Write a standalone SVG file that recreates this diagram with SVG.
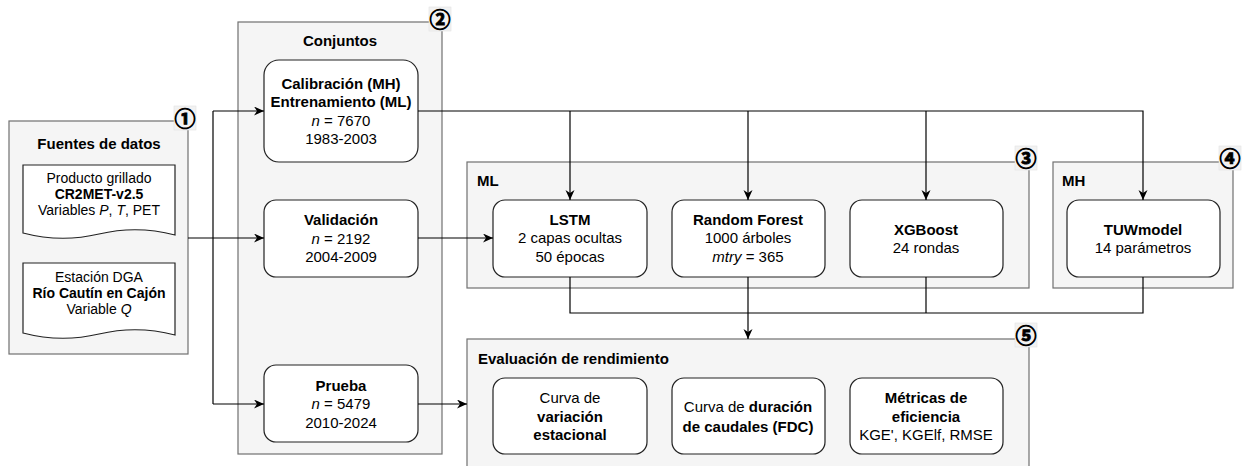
<svg xmlns="http://www.w3.org/2000/svg" width="1249" height="466" viewBox="0 0 1249 466">
<style>
text{font-family:"Liberation Sans",Arial,sans-serif;font-size:15px;fill:#000}
.c{text-anchor:middle}
.b{font-weight:bold}
.i{font-style:italic}
.d{font-size:14px}
.panel{fill:#f5f5f5;stroke:#707070;stroke-width:1.2}
.box{fill:#fff;stroke:#222;stroke-width:1.2}
.badge{fill:#f2f2f2;stroke:#e2e2e2;stroke-width:0.6}
.num{font-family:"Noto Sans CJK JP","DejaVu Sans",sans-serif;font-size:21px;font-weight:bold;text-anchor:middle;stroke:#000;stroke-width:0.9}
.edge{fill:none;stroke:#000;stroke-width:1.2}
.arr{marker-end:url(#ah)}
</style>
<defs>
<marker id="ah" markerUnits="userSpaceOnUse" markerWidth="11" markerHeight="10" refX="10" refY="4.5" orient="auto">
<path d="M0,0 L10,4.5 L0,9 L3,4.5 Z" fill="#000"/>
</marker>
</defs>
<rect width="1249" height="466" fill="#fff"/>

<g id="panel1">
<rect class="panel" x="9" y="121" width="179" height="233"/>
<text class="c b" x="99" y="149">Fuentes de datos</text>
<rect class="badge" x="174" y="106" width="22" height="24"/>
<text class="num" x="185" y="125.5">①</text>
</g>
<g id="doc-cr2met">
<path class="box" d="M23,165 H175 V235 Q137,225 99,234 Q61,243 23,233 Z"/>
<text class="c d" x="99" y="183">Producto grillado</text>
<text class="c b d" x="99" y="199">CR2MET-v2.5</text>
<text class="c d" x="99" y="215">Variables <tspan class="i">P</tspan>, <tspan class="i">T</tspan>, PET</text>
</g>
<g id="doc-dga">
<path class="box" d="M23,263 H175 V335 Q137,325 99,334 Q61,343 23,333 Z"/>
<text class="c d" x="99" y="282">Estación DGA</text>
<text class="c b d" x="99" y="298">Río Cautín en Cajón</text>
<text class="c d" x="99" y="314">Variable <tspan class="i">Q</tspan></text>
</g>

<g id="panel2">
<rect class="panel" x="238" y="22" width="204" height="432"/>
<text class="c b" x="340" y="46">Conjuntos</text>
<rect class="badge" x="429" y="7" width="22" height="24"/>
<text class="num" x="440" y="26.5">②</text>
</g>
<g id="calibracion">
<rect class="box" x="264" y="60" width="154" height="102" rx="15"/>
<text class="c b" x="341" y="88.5">Calibración (MH)</text>
<text class="c b" x="341" y="107">Entrenamiento (ML)</text>
<text class="c" x="341" y="125.5"><tspan class="i">n</tspan> = 7670</text>
<text class="c" x="341" y="143.5">1983-2003</text>
</g>
<g id="validacion">
<rect class="box" x="264" y="200" width="154" height="77" rx="12"/>
<text class="c b" x="341" y="225">Validación</text>
<text class="c" x="341" y="243.5"><tspan class="i">n</tspan> = 2192</text>
<text class="c" x="341" y="262">2004-2009</text>
</g>
<g id="prueba">
<rect class="box" x="264" y="365" width="154" height="77" rx="12"/>
<text class="c b" x="341" y="391">Prueba</text>
<text class="c" x="341" y="409"><tspan class="i">n</tspan> = 5479</text>
<text class="c" x="341" y="427.5">2010-2024</text>
</g>

<g id="panel3">
<rect class="panel" x="467" y="162" width="562" height="126"/>
<text class="b" x="477" y="186">ML</text>
<rect class="badge" x="1015" y="146" width="22" height="24"/>
<text class="num" x="1026" y="165.5">③</text>
</g>
<g id="lstm">
<rect class="box" x="493" y="200" width="154" height="77" rx="12"/>
<text class="c b" x="570" y="225">LSTM</text>
<text class="c" x="570" y="243">2 capas ocultas</text>
<text class="c" x="570" y="261.5">50 épocas</text>
</g>
<g id="rf">
<rect class="box" x="672" y="200" width="153" height="77" rx="12"/>
<text class="c b" x="748" y="225">Random Forest</text>
<text class="c" x="748" y="243">1000 árboles</text>
<text class="c" x="748" y="261.5"><tspan class="i">mtry</tspan> = 365</text>
</g>
<g id="xgb">
<rect class="box" x="850" y="200" width="153" height="77" rx="12"/>
<text class="c b" x="926" y="234.5">XGBoost</text>
<text class="c" x="926" y="253">24 rondas</text>
</g>

<g id="panel4">
<rect class="panel" x="1053" y="162" width="180" height="126"/>
<text class="b" x="1062" y="186">MH</text>
<rect class="badge" x="1219" y="146" width="22" height="24"/>
<text class="num" x="1230" y="165.5">④</text>
</g>
<g id="tuw">
<rect class="box" x="1067" y="200" width="153" height="77" rx="12"/>
<text class="c b" x="1143" y="234.5">TUWmodel</text>
<text class="c" x="1143" y="253">14 parámetros</text>
</g>

<g id="panel5">
<rect class="panel" x="467" y="339" width="562" height="140"/>
<text class="b" x="478" y="364">Evaluación de rendimiento</text>
<rect class="badge" x="1015" y="323" width="22" height="24"/>
<text class="num" x="1026" y="342.5">⑤</text>
</g>
<g id="estacional">
<rect class="box" x="493" y="378" width="154" height="76" rx="12"/>
<text class="c" x="570" y="403">Curva de</text>
<text class="c b" x="570" y="421.5">variación</text>
<text class="c b" x="570" y="440">estacional</text>
</g>
<g id="fdc">
<rect class="box" x="672" y="378" width="153" height="76" rx="12"/>
<text class="c" x="748" y="412">Curva de <tspan class="b">duración</tspan></text>
<text class="c b" x="748" y="431.5">de caudales (FDC)</text>
</g>
<g id="metricas">
<rect class="box" x="850" y="378" width="153" height="76" rx="12"/>
<text class="c b" x="926" y="403">Métricas de</text>
<text class="c b" x="926" y="421.5">eficiencia</text>
<text class="c" x="926" y="440">KGE', KGElf, RMSE</text>
</g>

<g id="connectors">
<path class="edge arr" d="M188,238 H264"/>
<path class="edge" d="M213,111 V404"/>
<path class="edge arr" d="M213,111 H264"/>
<path class="edge arr" d="M213,404 H264"/>
<path class="edge arr" d="M418,111 H1143 V200"/>
<path class="edge arr" d="M570,111 V200"/>
<path class="edge arr" d="M748,111 V200"/>
<path class="edge arr" d="M926,111 V200"/>
<path class="edge arr" d="M418,238 H493"/>
<path class="edge arr" d="M418,404 H467"/>
<path class="edge" d="M570,277 V313 H1143 V277"/>
<path class="edge" d="M926,277 V313"/>
<path class="edge arr" d="M748,277 V339"/>
</g>
</svg>
